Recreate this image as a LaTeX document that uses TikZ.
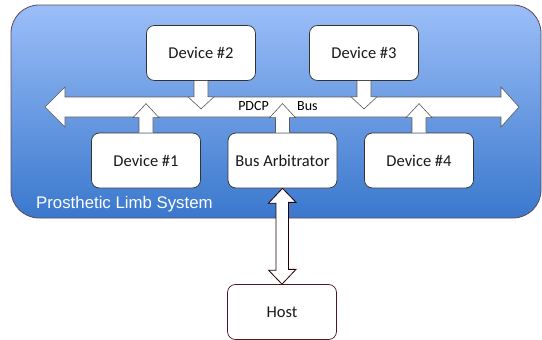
\documentclass[tikz,border=0pt]{standalone}
\usepackage{fontspec}
\setmainfont{Carlito}
\newfontfamily\labelsans{Liberation Sans}
\usetikzlibrary{calc}
\begin{document}
\begin{tikzpicture}[x=1pt,y=-1pt,
  devbox/.style={draw=black!80, line width=0.7pt, fill=white, rounded corners=8pt,
    minimum width=109pt, minimum height=55pt, inner sep=0pt,
    font=\fontsize{16.5}{18}\selectfont, text=black!90},
  blockarrow/.style={draw=black!65, line width=0.6pt, fill=white, line join=miter},
  hostarrow/.style={draw=black!85!red, line width=0.8pt, fill=white, line join=miter}]
\useasboundingbox (0,0) rectangle (542,340);

% system container with vertical gradient
\shade[top color={rgb,255:red,155;green,190;blue,248},
       bottom color={rgb,255:red,58;green,120;blue,205},
       rounded corners=28pt] (11,5) rectangle (541,218);
\draw[draw={rgb,255:red,95;green,70;blue,95}, line width=0.8pt, rounded corners=28pt]
  (11,5) rectangle (541,218);
\node[anchor=base west, text=white, inner sep=0pt, font=\labelsans\fontsize{16.8}{18}\selectfont]
  (sys) at (36,208) {Prosthetic Limb System};

% devices
\node[devbox] (d2) at (201,53) {Device \#2};
\node[devbox] (d3) at (364,53) {Device \#3};
\node[devbox] (d1) at (146,160.5) {Device \#1};
\node[devbox] (arb) at (282.5,160.5) {Bus Arbitrator};
\node[devbox] (d4) at (419,160.5) {Device \#4};
\node[devbox, draw={rgb,255:red,80;green,20;blue,35}] (host) at (282,312) {Host};

% PDCP bus: wide double-headed block arrow
\coordinate (busL) at (45,107);
\coordinate (busR) at (519,107);
\draw[blockarrow] (busL) -- ++(20,-20) -- ++(0,10) -- ($(busR)+(-18,-10)$)
  -- ++(0,-10) -- (busR) -- ++(-18,20) -- ++(0,-10) -- ($(busL)+(20,10)$)
  -- ++(0,10) -- cycle;

% devices writing onto the bus (down arrows)
\foreach \n in {d2,d3}{
  \draw[blockarrow] (\n.south) ++(-7,0) -- ++(0,16) -- ++(-6,0) -- ++(13,12)
    -- ++(13,-12) -- ++(-6,0) -- ++(0,-16);
}
% devices reading from the bus (up arrows)
\foreach \n in {d1,arb,d4}{
  \draw[blockarrow] (\n.north) ++(-7,0) -- ++(0,-15) -- ++(-6,0) -- ++(13,-14)
    -- ++(13,14) -- ++(-6,0) -- ++(0,15);
}

\node[anchor=east, font=\fontsize{14}{16}\selectfont, inner sep=0pt] (pdcp) at (269,106) {PDCP};
\node[anchor=west, font=\fontsize{14}{16}\selectfont, inner sep=0pt] (buslbl) at (297,106) {Bus};

% host link: vertical double-headed block arrow
\draw[hostarrow] (arb.south) -- ++(13.5,14) -- ++(-7.5,0) -- ++(0,67) -- ++(7.5,0)
  -- (host.north) -- ++(-13.5,-14) -- ++(7.5,0) -- ++(0,-67) -- ++(-7.5,0) -- cycle;
\end{tikzpicture}
\end{document}
